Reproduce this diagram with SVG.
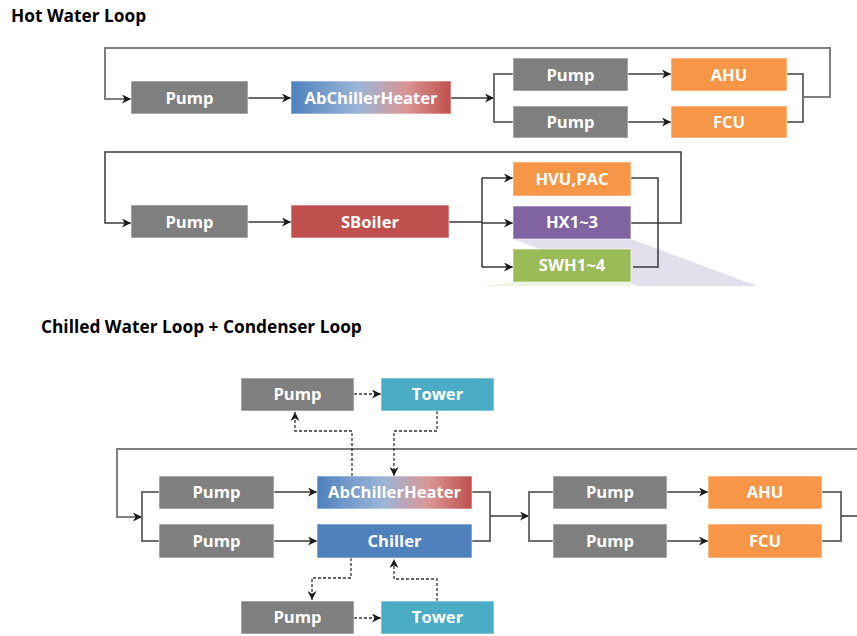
<svg xmlns="http://www.w3.org/2000/svg" width="857" height="636" viewBox="0 0 857 636">
<defs>
<linearGradient id="gAb" x1="0" y1="0" x2="1" y2="0">
<stop offset="0" stop-color="#4f81bd"/>
<stop offset="0.42" stop-color="#9bb5d8"/>
<stop offset="0.72" stop-color="#d99694"/>
<stop offset="1" stop-color="#c0504d"/>
</linearGradient>
<marker id="ar" viewBox="0 0 10 10" refX="10" refY="5" markerWidth="9" markerHeight="9" markerUnits="userSpaceOnUse" orient="auto">
<path d="M0,0 L10,5 L0,10 L3,5 z" fill="#1a1a1a"/>
</marker>
</defs>
<style>
.title{font-family:"Open Sans","Noto Sans",sans-serif;font-weight:bold;font-size:17.3px;fill:#000}
.box{stroke:#ffffff;stroke-opacity:0.6;stroke-width:1}
.lbl{font-family:"Open Sans","Noto Sans",sans-serif;font-weight:bold;font-size:16.6px;fill:#fff;text-anchor:middle}
.gray{fill:#7f7f7f}
.orange{fill:#f79646}
.purple{fill:#8064a2}
.green{fill:#9bbb59}
.red{fill:#c0504d}
.blue{fill:#4f81bd}
.teal{fill:#4bacc6}
.ln{fill:none;stroke:#3a3a3a;stroke-width:1.5}
.loop{fill:none;stroke:#7f7f7f;stroke-width:2}
.jn{fill:none;stroke:#6f6f6f;stroke-width:2}
.dash{fill:none;stroke:#333;stroke-width:1.3;stroke-dasharray:3,2}
</style>
<rect width="857" height="636" fill="#fff"/>
<text class="title" x="11" y="22">Hot Water Loop</text>
<text class="title" x="41" y="333">Chilled Water Loop + Condenser Loop</text>
<polygon points="513,239 631,239 757,286 637,286" fill="#e4dfec"/>
<polygon points="513,282 631,282 631,286 483,286" fill="#eef3e2"/>
<g id="connectors">
<path class="loop" d="M803,97 H830 V48 H105 V99 H131" marker-end="url(#ar)"/>
<path class="ln" d="M248,98 H291" marker-end="url(#ar)"/>
<path class="ln" d="M451,98 H494" marker-end="url(#ar)"/>
<path class="jn" d="M513,74 H494 V122 H513"/>
<path class="ln" d="M628,74 H671" marker-end="url(#ar)"/>
<path class="ln" d="M628,122 H671" marker-end="url(#ar)"/>
<path class="jn" d="M786,74 H803 V122 H786"/>
<path class="ln" d="M631,223 H681 V152 H105 V223 H131" marker-end="url(#ar)"/>
<path class="ln" d="M248,222 H291" marker-end="url(#ar)"/>
<path class="ln" d="M449,222 H482 M482,178 V267"/>
<path class="ln" d="M482,178 H513" marker-end="url(#ar)"/>
<path class="ln" d="M482,223 H513" marker-end="url(#ar)"/>
<path class="ln" d="M482,267 H513" marker-end="url(#ar)"/>
<path class="ln" d="M631,178 H658 V267 H633"/>
<path class="loop" d="M857,449 H117 V517 H142" marker-end="url(#ar)"/>
<path class="jn" d="M159,492 H142 V541 H159"/>
<path class="ln" d="M274,492 H317" marker-end="url(#ar)"/>
<path class="ln" d="M274,541 H317" marker-end="url(#ar)"/>
<path class="jn" d="M472,492 H490 V541 H472"/>
<path class="ln" d="M490,516 H529" marker-end="url(#ar)"/>
<path class="jn" d="M553,492 H529 V541 H553"/>
<path class="ln" d="M667,492 H708" marker-end="url(#ar)"/>
<path class="ln" d="M667,541 H708" marker-end="url(#ar)"/>
<path class="jn" d="M822,492 H841 V541 H822"/>
<path class="ln" d="M841,516 H857"/>
<path class="dash" d="M354,394 H381" marker-end="url(#ar)"/>
<path class="dash" d="M352,476 V431 H295 V412" marker-end="url(#ar)"/>
<path class="dash" d="M437,411 V431 H394 V476" marker-end="url(#ar)"/>
<path class="dash" d="M351,558 V578 H312 V600" marker-end="url(#ar)"/>
<path class="dash" d="M354,618 H381" marker-end="url(#ar)"/>
<path class="dash" d="M437,601 V579 H394 V559" marker-end="url(#ar)"/>
</g>
<g id="hw-pump1"><rect class="box gray" x="131" y="81" width="117" height="33"/><text class="lbl" x="189.5" y="103.8">Pump</text></g>
<g id="hw-abch"><rect class="box" fill="url(#gAb)" x="291" y="81" width="160" height="33"/><text class="lbl" x="371" y="103.8">AbChillerHeater</text></g>
<g id="hw-pump2"><rect class="box gray" x="513" y="58" width="115" height="33"/><text class="lbl" x="570.5" y="80.8">Pump</text></g>
<g id="hw-pump3"><rect class="box gray" x="513" y="106" width="115" height="32"/><text class="lbl" x="570.5" y="127.8">Pump</text></g>
<g id="hw-ahu"><rect class="box orange" x="671" y="58" width="116" height="33"/><text class="lbl" x="729" y="80.8">AHU</text></g>
<g id="hw-fcu"><rect class="box orange" x="671" y="106" width="116" height="32"/><text class="lbl" x="729" y="127.8">FCU</text></g>
<g id="hw-pump4"><rect class="box gray" x="131" y="205" width="117" height="33"/><text class="lbl" x="189.5" y="227.8">Pump</text></g>
<g id="hw-sboiler"><rect class="box red" x="291" y="205" width="158" height="33"/><text class="lbl" x="370" y="227.8">SBoiler</text></g>
<g id="hw-hvu"><rect class="box orange" x="513" y="162" width="118" height="34"/><text class="lbl" x="572" y="184.8">HVU,PAC</text></g>
<g id="hw-hx"><rect class="box purple" x="513" y="206" width="118" height="33"/><text class="lbl" x="572" y="228.3">HX1~3</text></g>
<g id="hw-swh"><rect class="box green" x="513" y="249" width="118" height="33"/><text class="lbl" x="572" y="271.3">SWH1~4</text></g>
<g id="cw-pump-top"><rect class="box gray" x="241" y="378" width="113" height="33"/><text class="lbl" x="297.5" y="400.3">Pump</text></g>
<g id="cw-tower-top"><rect class="box teal" x="381" y="378" width="113" height="33"/><text class="lbl" x="437.5" y="400.3">Tower</text></g>
<g id="cw-pump1"><rect class="box gray" x="159" y="476" width="115" height="33"/><text class="lbl" x="216.5" y="498.3">Pump</text></g>
<g id="cw-pump2"><rect class="box gray" x="159" y="524" width="115" height="34"/><text class="lbl" x="216.5" y="546.8">Pump</text></g>
<g id="cw-abch"><rect class="box" fill="url(#gAb)" x="317" y="476" width="155" height="33"/><text class="lbl" x="394.5" y="498.3">AbChillerHeater</text></g>
<g id="cw-chiller"><rect class="box blue" x="317" y="524" width="155" height="34"/><text class="lbl" x="394.5" y="546.8">Chiller</text></g>
<g id="cw-pump3"><rect class="box gray" x="553" y="476" width="114" height="33"/><text class="lbl" x="610" y="498.3">Pump</text></g>
<g id="cw-pump4"><rect class="box gray" x="553" y="524" width="114" height="34"/><text class="lbl" x="610" y="546.8">Pump</text></g>
<g id="cw-ahu"><rect class="box orange" x="708" y="476" width="114" height="33"/><text class="lbl" x="765" y="498.3">AHU</text></g>
<g id="cw-fcu"><rect class="box orange" x="708" y="524" width="114" height="34"/><text class="lbl" x="765" y="546.8">FCU</text></g>
<g id="cw-pump-bot"><rect class="box gray" x="241" y="601" width="113" height="33"/><text class="lbl" x="297.5" y="623.3">Pump</text></g>
<g id="cw-tower-bot"><rect class="box teal" x="381" y="601" width="113" height="33"/><text class="lbl" x="437.5" y="623.3">Tower</text></g>
</svg>
